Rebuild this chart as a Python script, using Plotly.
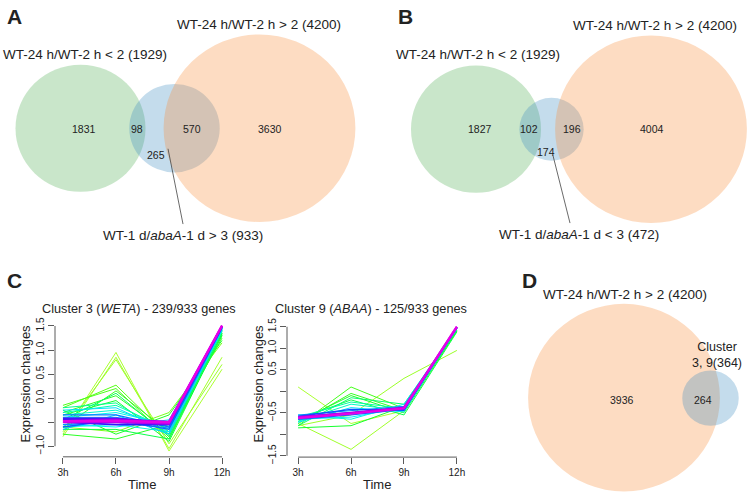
import plotly.graph_objects as go
from plotly.colors import sample_colorscale
import math

# ---------------- DATA ----------------
time_labels = ["3h", "6h", "9h", "12h"]

# Panel A venn: set sizes and region counts
a_sets = [1929, 933, 4200]
a_regions = [1831, 98, 265, 570, 3630]
a_set_labels = ["WT-24 h/WT-2 h &lt; 2 (1929)", "WT-1 d/<i>abaA</i>-1 d &gt; 3 (933)", "WT-24 h/WT-2 h &gt; 2 (4200)"]

# Panel B venn
b_sets = [1929, 472, 4200]
b_regions = [1827, 102, 174, 196, 4004]
b_set_labels = ["WT-24 h/WT-2 h &lt; 2 (1929)", "WT-1 d/<i>abaA</i>-1 d &lt; 3 (472)", "WT-24 h/WT-2 h &gt; 2 (4200)"]

# Panel D venn
d_sets = [4200, 364]
d_regions = [3936, 264]
d_set_labels = ["WT-24 h/WT-2 h &gt; 2 (4200)", "Cluster<br>3, 9(364)"]

# Panel C: cluster 3 profiles (values at 3h, 6h, 9h, 12h) and membership
c3_title = "Cluster 3 (<i>WETA</i>) - 239/933 genes"
c3_lines = [
    [-0.75, 0.95, -1.10, 0.60],
    [-0.80, 0.85, -1.05, 0.85],
    [-0.70, 0.80, -0.95, 0.70],
    [-0.60, -0.70, -0.30, 1.15],
    [-0.20, 0.27, -0.80, 1.30],
    [-0.15, 0.20, -0.85, 1.35],
    [-0.60, 0.15, -0.70, 1.25],
    [-0.30, 0.05, -0.75, 1.30],
    [-0.75, -0.85, -0.55, 1.42],
    [-0.25, -0.75, -0.35, 1.20],
    [-0.35, -0.05, -0.90, 1.35],
    [-0.65, -0.65, -0.85, 1.40],
    [-0.45, 0.10, -0.80, 1.32],
    [-0.20, -0.10, -0.75, 1.38],
    [-0.30, -0.15, -0.65, 1.40],
    [-0.35, -0.25, -0.60, 1.45],
    [-0.60, -0.55, -0.70, 1.42],
    [-0.40, -0.30, -0.55, 1.45],
    [-0.55, -0.60, -0.45, 1.45],
    [-0.25, -0.20, -0.70, 1.42],
    [-0.65, -0.35, -0.75, 1.43],
    [-0.40, -0.40, -0.55, 1.48],
    [-0.55, -0.50, -0.62, 1.47],
    [-0.35, -0.35, -0.60, 1.47],
    [-0.60, -0.45, -0.65, 1.46],
    [-0.45, -0.45, -0.50, 1.50],
    [-0.50, -0.55, -0.55, 1.49],
    [-0.42, -0.42, -0.52, 1.49],
    [-0.47, -0.44, -0.49, 1.50],
    [-0.50, -0.50, -0.53, 1.50],
    [-0.48, -0.47, -0.50, 1.51],
]
c3_members = [0.05, 0.06, 0.08, 0.15, 0.22, 0.24, 0.28, 0.30, 0.30, 0.32, 0.35, 0.38,
              0.40, 0.46, 0.50, 0.54, 0.56, 0.58, 0.60, 0.62, 0.64, 0.70, 0.72, 0.74,
              0.76, 0.82, 0.84, 0.86, 0.92, 0.96, 1.0]

c9_title = "Cluster 9 (<i>ABAA</i>) - 125/933 genes"
c9_lines = [
    [0.10, -0.75, -0.45, 1.45],
    [-0.75, -1.35, -0.45, 1.45],
    [-0.80, -0.55, 0.30, 0.95],
    [-0.80, 0.10, -0.40, 1.40],
    [-0.75, -0.05, -0.45, 1.42],
    [-0.70, -0.10, -0.50, 1.40],
    [-0.85, -0.80, -0.35, 1.45],
    [-0.65, -0.20, -0.55, 1.38],
    [-0.80, -0.15, -0.30, 1.42],
    [-0.60, -0.25, -0.40, 1.45],
    [-0.70, -0.30, -0.45, 1.45],
    [-0.55, -0.65, -0.30, 1.47],
    [-0.65, -0.60, -0.38, 1.46],
    [-0.72, -0.38, -0.48, 1.46],
    [-0.55, -0.45, -0.35, 1.48],
    [-0.65, -0.55, -0.42, 1.48],
    [-0.58, -0.42, -0.44, 1.48],
    [-0.60, -0.50, -0.40, 1.49],
    [-0.60, -0.50, -0.38, 1.50],
    [-0.62, -0.52, -0.40, 1.50],
]
c9_members = [0.05, 0.07, 0.08, 0.25, 0.28, 0.32, 0.34, 0.38, 0.42, 0.48, 0.52, 0.56,
              0.60, 0.62, 0.72, 0.76, 0.78, 0.84, 0.94, 1.0]

# ---------------- STYLE ----------------
FONT = "Arial, Liberation Sans, sans-serif"
W, H = 747, 500
GREEN = "rgba(75,172,78,0.3)"
BLUE = "rgba(58,138,192,0.3)"
ORANGE = "rgba(248,138,52,0.3)"
K = 1.48  # px per sqrt(gene)

memb_scale = [[0.0, "#C4FF3A"], [0.2, "#60FF10"], [0.35, "#10FF30"], [0.5, "#00FFB0"],
              [0.6, "#00F0FF"], [0.72, "#0090FF"], [0.82, "#1820FF"], [0.92, "#8A00F0"],
              [1.0, "#E600E6"]]

fig = go.Figure()

layout_axes = dict(
    xaxis3=dict(domain=[0, 1], range=[0, W], visible=False, fixedrange=True, anchor="y3"),
    yaxis3=dict(domain=[0, 1], range=[H, 0], visible=False, fixedrange=True, anchor="x3"),
)

shapes = []
annotations = []

def circle(cx, cy, n, color):
    r = K * math.sqrt(n)
    shapes.append(dict(type="circle", xref="x3", yref="y3", x0=cx - r, x1=cx + r,
                       y0=cy - r, y1=cy + r, fillcolor=color, line=dict(width=0),
                       layer="below"))

def text(x, y, s, size=10.5, **kw):
    annotations.append(dict(x=x, y=y, xref="x3", yref="y3", text=s, showarrow=False,
                            font=dict(family=FONT, size=size, color="#222"), **kw))

def seg(x0, y0, x1, y1):
    shapes.append(dict(type="line", xref="x3", yref="y3", x0=x0, y0=y0, x1=x1, y1=y1,
                       line=dict(color="#444", width=0.8)))

# Panel A
circle(80.5, 127, a_sets[0], GREEN)
circle(174.5, 127, a_sets[1], BLUE)
circle(259.5, 127, a_sets[2], ORANGE)
for (x, y), v in zip([(84, 128), (137, 128), (156, 154), (192, 128), (270, 128)], a_regions):
    text(x, y, str(v))
text(85, 52, a_set_labels[0], 13.5)
text(183, 237, a_set_labels[1], 13.5)
text(259, 21, a_set_labels[2], 13.5)
seg(168, 148, 183, 225)

# Panel B
circle(476, 128, b_sets[0], GREEN)
circle(551.5, 128, b_sets[1], BLUE)
circle(651, 128, b_sets[2], ORANGE)
for (x, y), v in zip([(480, 128), (529, 128), (546, 151), (572, 128), (652, 128)], b_regions):
    text(x, y, str(v))
text(478, 52, b_set_labels[0], 13.5)
text(579, 236, b_set_labels[1], 13.5)
text(655, 22, b_set_labels[2], 13.5)
seg(553, 155, 570, 224)

# Panel D
circle(624, 402.5, d_sets[0], ORANGE)
circle(710.5, 403, d_sets[1], BLUE)
for (x, y), v in zip([(622, 405), (703, 405)], d_regions):
    text(x, y, str(v))
text(625, 297, d_set_labels[0], 13.5)
text(717, 359, d_set_labels[1], 12.5)

# panel letters
for lab, x, y in [("A", 14, 13), ("B", 405, 13), ("C", 14, 283), ("D", 529, 283)]:
    text(x, y, "<b>%s</b>" % lab, 21)

# Panel C line plots
def add_profiles(lines, members, xa, ya):
    order = sorted(range(len(lines)), key=lambda i: members[i])
    for i in order:
        m = members[i]
        col = sample_colorscale(memb_scale, [m])[0]
        w = 1.0 + 1.4 * max(0.0, m - 0.7) / 0.3
        fig.add_trace(go.Scatter(x=list(range(len(time_labels))), y=lines[i], mode="lines",
                                 line=dict(color=col, width=w), xaxis=xa, yaxis=ya,
                                 showlegend=False, hoverinfo="skip"))

add_profiles(c3_lines, c3_members, "x", "y")
add_profiles(c9_lines, c9_members, "x2", "y2")

AX = "#5a5a5a"
def xax(dom, rng, anchor):
    return dict(domain=dom, range=rng, tickvals=list(range(len(time_labels))), ticktext=time_labels,
                ticks="outside", ticklen=6, tickcolor=AX, tickwidth=1, showline=False,
                showgrid=False, zeroline=False, fixedrange=True, anchor=anchor,
                tickfont=dict(family=FONT, size=10, color="#222"))

def yax(dom, rng, vals, txt, anchor):
    return dict(domain=dom, range=rng, tickvals=vals, ticktext=txt, tickangle=-90,
                ticks="outside", ticklen=6, tickcolor=AX, tickwidth=1, showline=False,
                showgrid=False, zeroline=False, anchor=anchor, fixedrange=True,
                tickfont=dict(family=FONT, size=10, color="#222"))

yvals1 = [-1.0, -0.5, 0.0, 0.5, 1.0, 1.5]
ytxt1 = ["\u22121.0", "", "0.0", "0.5", "1.0", "1.5"]
yvals2 = [-1.5, -1.0, -0.5, 0.0, 0.5, 1.0, 1.5]
ytxt2 = ["\u22121.5", "", "\u22120.5", "", "0.5", "1.0", "1.5"]

layout_axes.update(
    xaxis=xax([55 / W, 230 / W], [-0.15, 3.15], "y"),
    yaxis=yax([1 - 463 / H, 1 - 324 / H], [-1.22, 1.606], yvals1, ytxt1, "x"),
    xaxis2=xax([287 / W, 468 / W], [-0.21, 3.21], "y2"),
    yaxis2=yax([1 - 463.3 / H, 1 - 325.6 / H], [-1.53, 1.60], yvals2, ytxt2, "x2"),
)

# R-style axis lines spanning first..last tick
for xa, ya, yv in [("x", "y", yvals1), ("x2", "y2", yvals2)]:
    shapes.append(dict(type="line", xref=xa + " domain", yref=ya, x0=0, x1=0,
                       y0=min(yv), y1=max(yv), line=dict(color=AX, width=1)))
    shapes.append(dict(type="line", xref=xa, yref=ya + " domain", x0=0, x1=len(time_labels) - 1,
                       y0=0, y1=0, line=dict(color=AX, width=1)))

# titles and axis labels for panel C
text(139, 312, c3_title, 12.7)
text(371, 312, c9_title, 12.7)
text(142, 491, "Time", 13)
text(377, 491, "Time", 13)
text(25, 388, "Expression changes", 13, textangle=-90)
text(258, 388, "Expression changes", 13, textangle=-90)

fig.update_layout(width=W, height=H, autosize=False, margin=dict(l=0, r=0, t=0, b=0),
                  paper_bgcolor="white", plot_bgcolor="rgba(0,0,0,0)",
                  shapes=shapes, annotations=annotations, showlegend=False, **layout_axes)

# invisible trace to activate the overlay pixel axes
fig.add_trace(go.Scatter(x=[0], y=[0], xaxis="x3", yaxis="y3", mode="markers",
                         marker=dict(opacity=0), showlegend=False, hoverinfo="skip"))

fig.write_html("out.html", config={"displayModeBar": False},
               post_script="document.body.style.margin='0';document.body.style.overflow='hidden';")
